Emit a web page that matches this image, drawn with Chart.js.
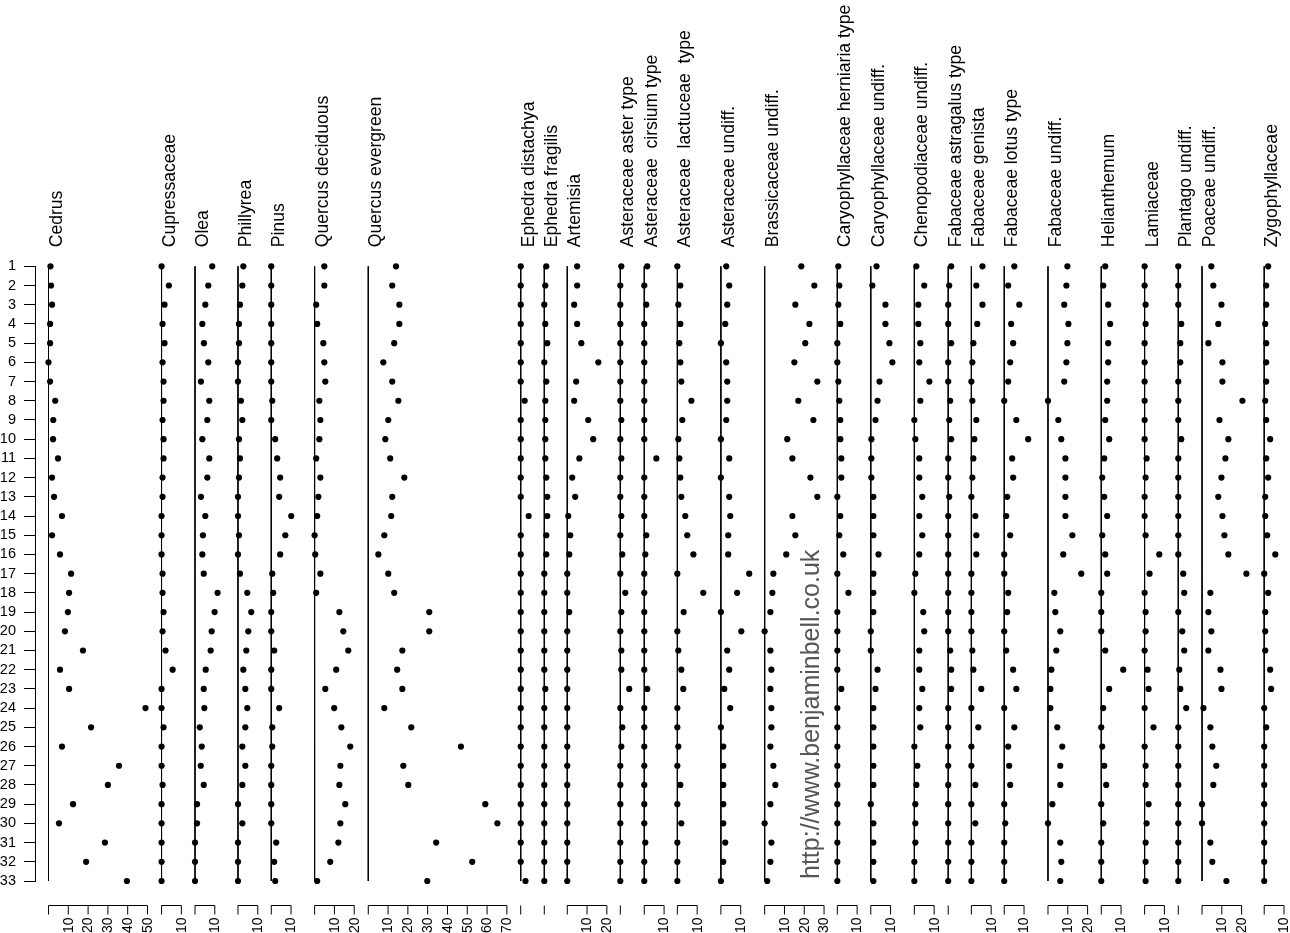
<!DOCTYPE html>
<html>
<head>
<meta charset="utf-8">
<title>Pollen diagram</title>
<script src="https://cdn.jsdelivr.net/npm/chart.js@4.4.1/dist/chart.umd.min.js"></script>
<style>
  html, body { margin: 0; padding: 0; background: #fff; }
  #canvass { display: block; }
</style>
</head>
<body>
<canvas id="canvass" width="1290" height="933" style="width:1290px;height:933px"></canvas>
<script>
// sample numbers (top to bottom)
var samples = [1,2,3,4,5,6,7,8,9,10,11,12,13,14,15,16,17,18,19,20,21,22,23,24,25,26,27,28,29,30,31,32,33];

var taxa = [
    'Cedrus', 'Cupressaceae', 'Olea', 'Phillyrea', 'Pinus', 'Quercus deciduous', 'Quercus evergreen',
    'Ephedra distachya', 'Ephedra fragilis', 'Artemisia', 'Asteraceae aster type', 'Asteraceae  cirsium type',
    'Asteraceae  lactuceae  type', 'Asteraceae undiff.', 'Brassicaceae undiff.', 'Caryophyllaceae herniaria type',
    'Caryophyllaceae undiff.', 'Chenopodiaceae undiff.', 'Fabaceae astragalus type', 'Fabaceae genista',
    'Fabaceae lotus type', 'Fabaceae undiff.', 'Helianthemum', 'Lamiaceae', 'Plantago undiff.',
    'Poaceae undiff.', 'Zygophyllaceae'
];

// percentages per taxon, sample 1..33
var cedrus       = [1.0,1.3,1.8,0.8,0.8,0,0.8,3.4,2.4,2.3,4.8,1.8,2.8,6.8,1.8,5.8,11.4,10.4,9.8,8.3,17.4,5.8,10.4,49,21.5,6.8,35.6,30,12.4,5.3,28.5,19,39.6];
var cupressaceae = [0,3.7,1.5,0.5,1.5,0.5,1.0,1.0,0.5,1.0,1.0,0.5,0.5,0,0,0,0.5,0.5,1.0,0.5,2.0,5.6,0,0,1.0,0,0,0.5,0,0,0,0,0];
var olea         = [8.7,6.7,5.2,3.7,4.5,6.7,3.0,7.2,6.2,3.7,7.2,6.2,3.0,5.2,4.0,3.7,4.4,11.4,9.9,8.4,7.9,5.4,4.4,4.7,2.4,3.4,2.9,4.4,1.0,1.0,0,0,0];
var phillyrea    = [2.7,2.2,1.0,0.5,0.5,0,0,1.5,2.2,0.5,1.0,0.5,0,0,0.5,0,1.0,4.7,6.7,5.2,4.2,2.7,3.7,4.7,3.7,2.2,3.7,2.2,0,2.2,0,0,0];
var pinus        = [0,0,0,0,0,0,0,0.5,0,2.0,3.0,4.5,4.0,10.1,7.1,4.5,0.5,1.0,0,0,1.5,0,0,4.0,0.5,0.5,0,0,0,0,2.5,1.5,2.0];
var quercusDec   = [4.9,4.9,0.8,1.3,4.4,4.9,5.4,2.4,2.9,2.4,0.8,2.9,1.9,1.3,0,0.3,2.9,0.8,12.5,14.5,17.0,10.9,5.4,9.9,13.5,18.0,13.0,12.5,15.5,13.0,12.0,7.9,1.3];
var quercusEver  = [14.0,12.1,15.7,15.7,13.1,7.6,12.1,15.2,10.1,8.6,11.1,18.2,12.1,11.6,8.1,5.1,10.1,13.1,30.8,30.8,17.2,14.6,17.2,8.1,21.7,46.8,17.7,20.2,59.1,65.2,34.3,52.5,29.8];
var ephDistachya = [0,0,0,0,0,0,0,2.0,0,0,0,0,0,4.0,0,0,0,0,0,0,0,0,0,0,0,0,0,0,0,0,0,0,2.4];
var ephFragilis  = [1.0,0.5,0,0.5,1.5,0,1.0,0.5,0.5,0.5,0.5,1.0,1.5,1.5,1.0,1.0,0,0,0,0,0,0,0.5,0,0,0,0,0,0,0,0,0,0];
var artemisia    = [5.0,5.0,3.5,5.0,7.1,15.7,4.5,3.5,10.6,13.1,6.1,2.5,4.0,0.5,1.5,1.0,0,0,1.0,0,0,0,0,0,0,0,0,0,0,0,0,0,0];
var asterType    = [0.5,0,0,0,0,0,0,0,0.5,0,0.5,0,0,0.5,0,1.0,0,2.5,0.5,0,0.5,0.5,4.5,0,1.0,0.5,0,0,0,0,0,0,0];
var cirsiumType  = [1.5,0,1.0,0,0,0,0,0,0,0,6.1,0,0,0,1.0,0.5,0,0,0,0,0,0,1.5,0,0,0,0,0,0,0,0.5,0,0];
var lactuceae    = [0,1.5,0.5,1.5,1.0,1.5,2.0,7.1,2.5,0.5,1.0,1.5,2.0,4.0,5.0,8.1,0,13.1,3.2,0,0.5,2.0,3.0,0,0,0.5,0,1.5,0,2.0,0,0,0];
var asterUndiff  = [2.7,4.2,3.2,2.2,0,2.7,3.2,3.2,2.7,0,4.2,0,4.2,4.7,3.7,3.7,14.3,8.2,0,10.3,3.2,4.2,1.7,4.7,0,1.2,1.2,1.2,1.2,1.2,2.2,1.2,0];
var brassica     = [18.5,25.1,15.5,22.6,20.5,15.0,26.6,17.0,24.6,11.4,14.0,23.1,26.6,14.0,15.5,10.9,4.4,3.9,2.9,0,2.9,3.4,2.9,3.4,3.4,2.9,4.4,5.4,2.9,0,3.4,2.9,1.3];
var caryHerniar  = [0.5,1.0,0.5,1.5,0,0,0.5,1.0,1.5,1.5,2.0,2.0,0,1.5,1.0,3.0,0,5.6,0,0,0,0,2.0,0,0,0,0,0,0,0,0,0,0];
var caryUndiff   = [2.9,0.8,7.4,7.4,9.4,10.9,4.4,3.4,2.4,0.3,0.3,0.3,1.3,1.3,1.3,3.9,1.3,1.3,1.3,0,0,3.4,2.4,1.3,1.3,1.3,1.3,1.3,0,1.3,1.3,1.3,1.3];
var chenopod     = [1.0,5.0,2.0,2.0,3.0,2.5,7.6,3.0,0,0.5,2.5,2.5,4.0,2.5,4.0,2.5,0.5,0,4.5,5.0,2.5,2.5,4.0,2.5,3.0,0,1.5,1.0,0.5,0.5,0.5,0,0];
var astragalus   = [1.5,0.5,0,0,1.5,0,0,1.0,0.5,1.5,0,0,0.5,0,0,0,0,0,0,0,1.0,1.5,1.5,0,0,0,0,0,0,0,0,0,0];
var genista      = [5.6,2.5,5.6,3.0,1.0,0.5,0,0.5,2.5,1.5,1.0,0.5,0,2.0,2.5,2.5,0,0,0,0,0.5,1.0,5.0,0,3.5,0,0,2.0,0,2.0,0,0,0];
var lotusType    = [5.1,2.0,7.6,3.5,4.5,3.0,2.0,0,6.1,12.1,4.0,4.5,1.5,1.0,3.0,0,0,2.0,1.5,0,1.0,4.5,6.1,0,5.1,2.0,2.5,3.0,0,0.5,0,0,0];
var fabUndiff    = [9.8,9.3,8.2,10.3,9.8,9.3,8.2,0,5.2,6.7,8.8,8.8,8.8,8.8,12.3,7.7,16.8,3.2,3.7,6.2,4.2,1.7,1.2,1.2,4.7,7.2,6.2,6.2,2.2,0,6.2,6.7,6.2];
var helianthemum = [2.0,1.0,3.5,4.5,3.5,3.5,3.0,3.0,2.0,4.0,1.5,0.5,1.5,3.0,0.5,2.0,3.0,0,0,0,2.0,11.1,4.0,1.0,0,0.5,1.5,2.5,0,1.0,0,0,0];
var lamiaceae    = [0,0,0.5,0.5,0,0,0,0,0,0,1.0,0.5,0,0,0.5,7.4,2.5,0,0.5,0.5,0,1.5,2.0,0,4.5,0,0.5,0.5,2.0,1.0,0.5,0.5,0.5];
var plantago     = [0,0,0,1.5,1.0,1.0,0,0,0,1.5,0,0,0,0,0,0,2.5,3.0,0,2.0,3.0,0.5,1.0,4.0,0,0,0,0,0,0,0,0,0];
var poaceae      = [4.7,5.7,9.8,8.2,3.2,10.3,10.3,20.4,8.8,13.3,11.8,9.8,8.2,10.3,11.3,13.3,22.4,4.2,3.2,4.7,3.2,9.3,9.8,0.7,4.2,5.2,7.2,5.7,0,0,4.2,5.2,12.3];
var zygophyll    = [2.0,1.0,1.0,0.5,1.0,1.0,1.0,0.5,1.0,3.0,1.0,2.0,0.5,0.5,1.5,5.6,0,2.0,0.5,0.5,0.5,3.0,3.5,0,1.0,0,0,0,0,0,0,0,0];

var series = [cedrus, cupressaceae, olea, phillyrea, pinus, quercusDec, quercusEver, ephDistachya, ephFragilis,
    artemisia, asterType, cirsiumType, lactuceae, asterUndiff, brassica, caryHerniar, caryUndiff, chenopod,
    astragalus, genista, lotusType, fabUndiff, helianthemum, lamiaceae, plantago, poaceae, zygophyll];

// layout: where each column's zero sits on the shared % axis
var colStart = [0, 57.1, 74.0, 95.7, 112.5, 134.4, 161.5, 238.5, 250.4, 262.0, 288.8, 300.9, 317.6, 339.6,
    361.7, 398.4, 415.3, 437.3, 454.4, 466.1, 482.7, 504.8, 531.7, 553.6, 570.6, 582.6, 614.0];

var FONT = '"Liberation Sans", Arial, Helvetica, sans-serif';
Chart.defaults.font.family = FONT;
Chart.defaults.font.size = 14;
Chart.defaults.color = '#000';

var datasets = [];
series.forEach(function (vals, k) {
    datasets.push({
        type: 'scatter',
        label: taxa[k],
        data: vals.map(function (v, i) { return { x: colStart[k] + v, y: samples[i] }; }),
        pointRadius: 3.1,
        pointBackgroundColor: '#000',
        pointBorderWidth: 0,
        clip: false,
        order: 1
    });
});
series.forEach(function (vals, k) {
    datasets.push({
        type: 'line',
        label: taxa[k] + ' zero',
        data: [{ x: colStart[k], y: samples[0] }, { x: colStart[k], y: samples[samples.length - 1] }],
        borderColor: '#000',
        borderWidth: 1,
        pointRadius: 0,
        clip: false,
        order: 2
    });
});

// taxon names on top, small % axes below, watermark
var decorations = {
    id: 'decorations',
    afterDraw: function (chart) {
        var ctx = chart.ctx, xs = chart.scales.x, area = chart.chartArea;
        ctx.save();
        ctx.fillStyle = '#000';
        ctx.strokeStyle = '#000';
        ctx.lineWidth = 1;

        // names
        ctx.font = '17.6px ' + FONT;
        ctx.textAlign = 'left';
        ctx.textBaseline = 'alphabetic';
        taxa.forEach(function (name, k) {
            var x0 = xs.getPixelForValue(colStart[k]);
            ctx.save();
            ctx.translate(x0 + 13, area.top - 19);
            ctx.rotate(-Math.PI / 2);
            ctx.fillText(name, 0, 0);
            ctx.restore();
        });

        // bottom axes
        var yAx = area.bottom + 24.5;
        ctx.font = '14px ' + FONT;
        ctx.textAlign = 'right';
        ctx.textBaseline = 'middle';
        series.forEach(function (vals, k) {
            var top = Math.round(Math.max.apply(null, vals) / 10) * 10;
            var a = xs.getPixelForValue(colStart[k]);
            var b = xs.getPixelForValue(colStart[k] + top);
            ctx.beginPath();
            ctx.moveTo(a, yAx);
            ctx.lineTo(b, yAx);
            for (var t = 0; t <= top; t += 10) {
                var px = xs.getPixelForValue(colStart[k] + t);
                ctx.moveTo(px, yAx);
                ctx.lineTo(px, yAx + 9);
            }
            ctx.stroke();
            for (var t2 = 10; t2 <= top; t2 += 10) {
                var px2 = xs.getPixelForValue(colStart[k] + t2);
                ctx.save();
                ctx.translate(px2 + 0.5, yAx + 12);
                ctx.rotate(-Math.PI / 2);
                ctx.fillText(String(t2), 0, 0);
                ctx.restore();
            }
        });

        // watermark
        ctx.fillStyle = '#555';
        ctx.font = '25px ' + FONT;
        ctx.textAlign = 'left';
        ctx.textBaseline = 'alphabetic';
        ctx.translate(819, area.bottom - 2);
        ctx.rotate(-Math.PI / 2);
        ctx.fillText('http://www.benjaminbell.co.uk', 0, 0);
        ctx.restore();
    }
};

try {
    var ctx = document.getElementById('canvass').getContext('2d');
    var pollenChart = new Chart(ctx, {
        data: { datasets: datasets },
        options: {
            responsive: false,
            animation: false,
            events: [],
            layout: { padding: { top: 266.3, bottom: 52, left: 0, right: 5 } },
            plugins: { legend: { display: false }, tooltip: { enabled: false } },
            scales: {
                x: {
                    type: 'linear',
                    display: false,
                    bounds: 'data',
                    min: -6.82,
                    max: 624.5
                },
                y: {
                    type: 'linear',
                    reverse: true,
                    min: 1,
                    max: 33,
                    afterFit: function (scale) { scale.width = 35; },
                    ticks: {
                        stepSize: 1,
                        autoSkip: false,
                        padding: 8,
                        color: '#000',
                        font: { family: FONT, size: 14.5 }
                    },
                    grid: { drawOnChartArea: false, drawTicks: true, tickLength: 11, color: '#000', lineWidth: 1 },
                    border: { display: true, color: '#000', width: 1 }
                }
            }
        },
        plugins: [decorations]
    });
} catch (e) {
    console.log('We have encountered an error: ' + e);
}
</script>
</body>
</html>
